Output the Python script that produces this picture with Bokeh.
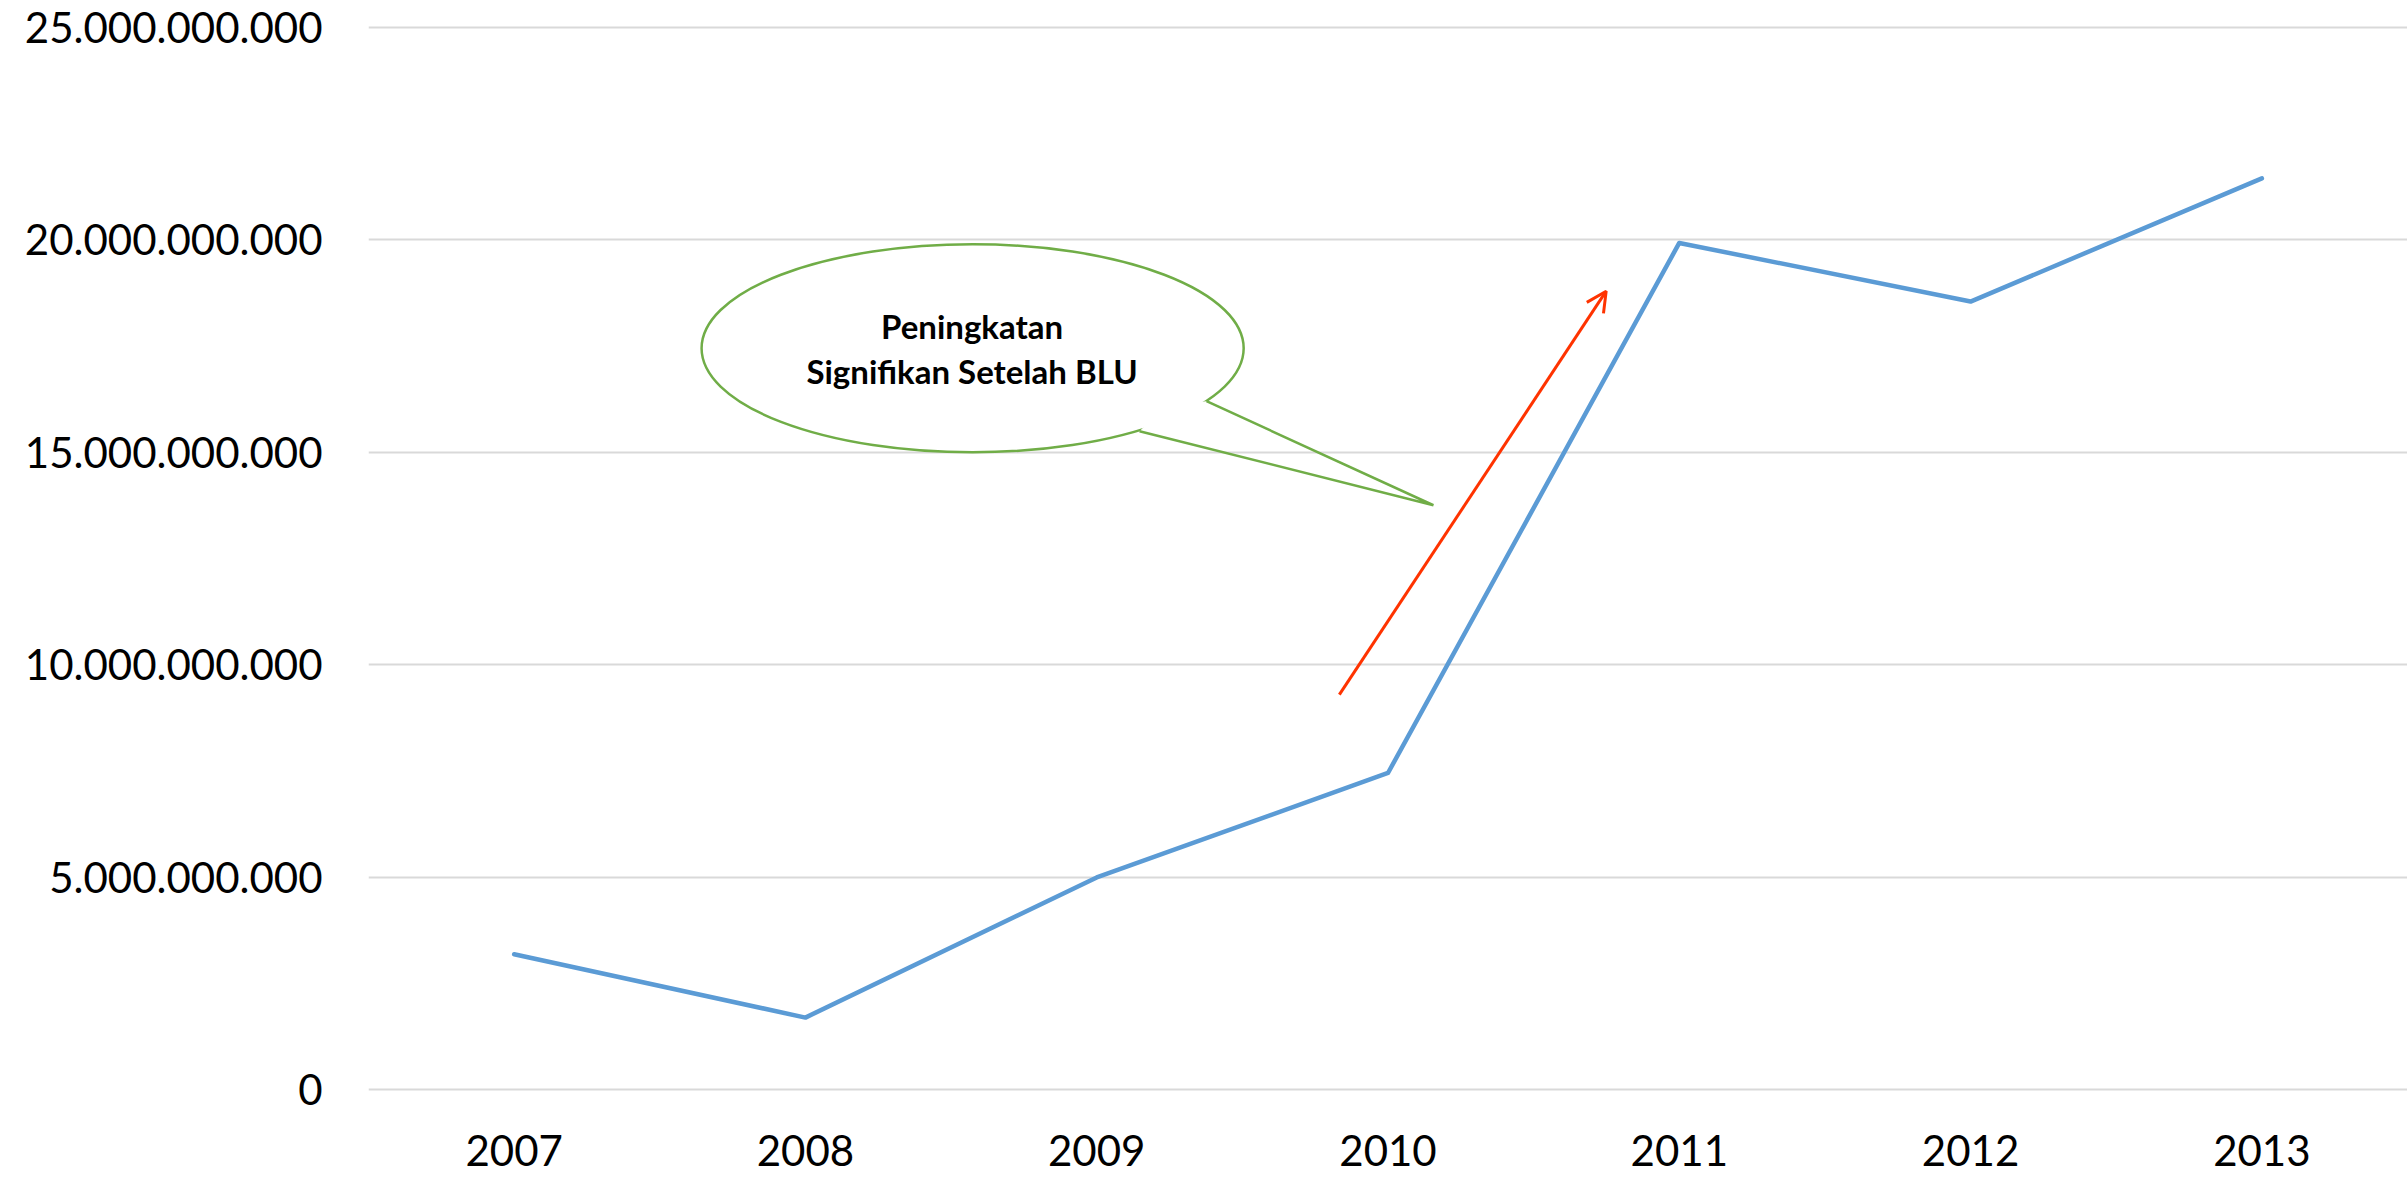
from bokeh.plotting import figure
from bokeh.models import (Range1d, FixedTicker, CustomJSTickFormatter, Arrow, OpenHead, Label)
from bokeh.embed import file_html
from bokeh.resources import INLINE

# ---- data ----
years = [2007, 2008, 2009, 2010, 2011, 2012, 2013]
year_labels = ["2007", "2008", "2009", "2010", "2011", "2012", "2013"]
values = [3.18e9, 1.69e9, 4.99e9, 7.45e9, 19.93e9, 18.55e9, 21.45e9]
y_ticks = [0, 5e9, 10e9, 15e9, 20e9, 25e9]
y_tick_labels = ["0", "5.000.000.000", "10.000.000.000", "15.000.000.000",
                 "20.000.000.000", "25.000.000.000"]
callout_lines = ["Peningkatan", "Signifikan Setelah BLU"]

BLUE = "#5B9BD5"
GREEN = "#70AD47"
RED = "#FF3300"
GRID = "#D9D9D9"
FONT = "Lato"

p = figure(width=2407, height=1182, output_backend="svg", toolbar_location=None,
           x_range=Range1d(2006.5, 2013.5), y_range=Range1d(-0.05e9, 25.05e9),
           min_border_left=368, min_border_right=0, min_border_top=25,
           min_border_bottom=91)
p.outline_line_color = None
p.background_fill_color = "white"
p.border_fill_color = "white"

LOOKUP = "const i = tvals.indexOf(tick); return i >= 0 ? tlabels[i] : '';"
p.xaxis.ticker = FixedTicker(ticks=years)
p.xaxis.formatter = CustomJSTickFormatter(args=dict(tvals=years, tlabels=year_labels), code=LOOKUP)
p.yaxis.ticker = FixedTicker(ticks=y_ticks)
p.yaxis.formatter = CustomJSTickFormatter(args=dict(tvals=y_ticks, tlabels=y_tick_labels), code=LOOKUP)
for ax in (p.xaxis, p.yaxis):
    ax.axis_line_color = None
    ax.major_tick_line_color = None
    ax.minor_tick_line_color = None
    ax.major_tick_out = 0
    ax.major_tick_in = 0
    ax.major_label_text_font = FONT
    ax.major_label_text_font_size = "42px"
    ax.major_label_text_color = "black"
p.yaxis.major_label_standoff = 46
p.xaxis.major_label_standoff = 43

p.xgrid.grid_line_color = None
p.ygrid.grid_line_color = GRID
p.ygrid.grid_line_width = 2

# series line
p.line(years, values, line_color=BLUE, line_width=4.5, line_join="round", line_cap="round")

# callout bubble
p.ellipse(x=[2008.574], y=[17.45e9], width=[1.861], height=[4.899e9],
          fill_color="white", line_color=GREEN, line_width=2.5)
p.patch([2009.236, 2009.377, 2009.572, 2009.399, 2009.147],
        [16.109e9, 16.203e9, 15.591e9, 15.061e9, 15.497e9],
        fill_color="white", line_color=None)
p.line([2009.377, 2010.156, 2009.147], [16.203e9, 13.754e9, 15.497e9],
       line_color=GREEN, line_width=2.5, line_join="miter")
p.add_layout(Label(x=2008.572, y=17.97e9, text=callout_lines[0], text_align="center",
                   text_baseline="alphabetic", text_font=FONT, text_font_style="bold",
                   text_font_size="33px", text_color="black"))
p.add_layout(Label(x=2008.572, y=16.91e9, text=callout_lines[1], text_align="center",
                   text_baseline="alphabetic", text_font=FONT, text_font_style="bold",
                   text_font_size="33px", text_color="black"))

# red arrow
p.add_layout(Arrow(end=OpenHead(size=20, line_color=RED, line_width=3),
                   x_start=2009.833, y_start=9.293e9, x_end=2010.749, y_end=18.794e9,
                   line_color=RED, line_width=3))

open("out.html", "w").write(file_html(p, INLINE))
